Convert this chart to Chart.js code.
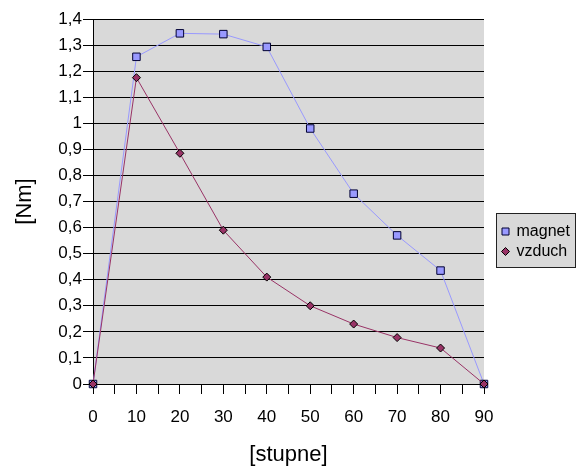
<!DOCTYPE html>
<html><head><meta charset="utf-8">
<script src="https://cdn.jsdelivr.net/npm/chart.js@4"></script>
<style>html,body{margin:0;padding:0;background:#fff}#wrap{width:577px;height:468px;position:relative}</style>
</head><body><div id="wrap"><canvas id="c" width="577" height="468"></canvas></div>
<script>
const angles = [0, 10, 20, 30, 40, 50, 60, 70, 80, 90];
const magnet = [0, 1.255, 1.345, 1.342, 1.293, 0.98, 0.73, 0.57, 0.435, 0];
const vzduch = [0, 1.175, 0.885, 0.59, 0.41, 0.30, 0.23, 0.178, 0.138, 0];
const seriesNames = ['magnet', 'vzduch'];
const xTitle = '[stupne]';
const yTitle = '[Nm]';

const FONT = "'Liberation Sans', Arial, sans-serif";

const bgPlugin = {
  id: 'bg',
  beforeDraw(chart) {
    const {ctx, chartArea: a} = chart;
    ctx.save();
    ctx.fillStyle = '#D9D9D9';
    ctx.fillRect(a.left, a.top, a.right - a.left, a.bottom - a.top);
    ctx.restore();
  }
};

const legendPlugin = {
  id: 'boxLegend',
  afterDraw(chart) {
    const {ctx, chartArea: a} = chart;
    const x0 = a.right + 12.5, y0 = 213.5, w = 79, h = 54;
    ctx.save();
    ctx.fillStyle = '#D9D9D9';
    ctx.fillRect(x0, y0, w, h);
    ctx.strokeStyle = '#222';
    ctx.lineWidth = 1;
    ctx.strokeRect(x0, y0, w, h);
    ctx.font = '16px ' + FONT;
    ctx.textBaseline = 'middle';
    ctx.fillStyle = '#000';
    [0, 1].forEach((i, k) => {
      const ds = chart.data.datasets[i];
      const cy = y0 + 18 + k * 20;
      const cx = x0 + 9;
      ctx.fillStyle = ds.pointBackgroundColor;
      ctx.strokeStyle = ds.pointBorderColor;
      ctx.beginPath();
      if (ds.pointStyle === 'rect') {
        ctx.rect(cx - 3.5, cy - 3.5, 7, 7);
      } else {
        ctx.moveTo(cx, cy - 4); ctx.lineTo(cx + 4, cy); ctx.lineTo(cx, cy + 4); ctx.lineTo(cx - 4, cy); ctx.closePath();
      }
      ctx.fill(); ctx.stroke();
      ctx.fillStyle = '#000';
      ctx.fillText(ds.label, x0 + 20, cy);
    });
    ctx.restore();
  }
};

const toPts = ys => angles.map((x, i) => ({x: x, y: ys[i]}));

new Chart(document.getElementById('c'), {
  type: 'scatter',
  data: {
    datasets: [
      {
        label: seriesNames[0], data: toPts(magnet), showLine: true, clip: false,
        borderColor: '#9999FF', borderWidth: 1,
        pointStyle: 'rect', pointRadius: 5.3, pointHoverRadius: 5.3,
        pointBackgroundColor: '#9999FF', pointBorderColor: '#000033', pointBorderWidth: 1,
        tension: 0, order: 1
      },
      {
        label: seriesNames[1], data: toPts(vzduch), showLine: true, clip: false,
        borderColor: '#993366', borderWidth: 1,
        pointStyle: 'rectRot', pointRadius: 4, pointHoverRadius: 4,
        pointBackgroundColor: '#993366', pointBorderColor: '#000000', pointBorderWidth: 1,
        tension: 0, order: 0
      }
    ]
  },
  options: {
    responsive: false, animation: false, devicePixelRatio: 1,
    layout: {padding: {left: 0, right: 93, top: 19, bottom: 0}},
    plugins: {legend: {display: false}, tooltip: {enabled: false}},
    scales: {
      x: {
        type: 'linear', min: 0, max: 90,
        afterFit(s) { s.height = 84; },
        ticks: {
          stepSize: 5, autoSkip: false, maxRotation: 0, padding: 13,
          color: '#000', font: {family: FONT, size: 17},
          callback: v => (v % 10 === 0 ? String(v) : '')
        },
        grid: {drawOnChartArea: false, drawTicks: true, tickLength: 10, color: '#000', tickColor: '#000'},
        border: {display: true, color: '#000', width: 1},
        title: {display: true, text: xTitle, color: '#000', font: {family: FONT, size: 22}, padding: {top: 10, bottom: 0}}
      },
      y: {
        type: 'linear', min: 0, max: 1.4,
        afterFit(s) { s.width = 93; },
        ticks: {
          stepSize: 0.1, autoSkip: false, padding: 1,
          color: '#000', font: {family: FONT, size: 17},
          callback: v => String(Math.round(v * 10) / 10).replace('.', ',')
        },
        grid: {drawTicks: true, tickLength: 10, color: '#000', tickColor: '#000', lineWidth: 1},
        border: {display: true, color: '#000', width: 1},
        title: {display: true, text: yTitle, color: '#000', font: {family: FONT, size: 22}, padding: {top: 12, bottom: 0}}
      }
    }
  },
  plugins: [bgPlugin, legendPlugin]
});
</script></body></html>
